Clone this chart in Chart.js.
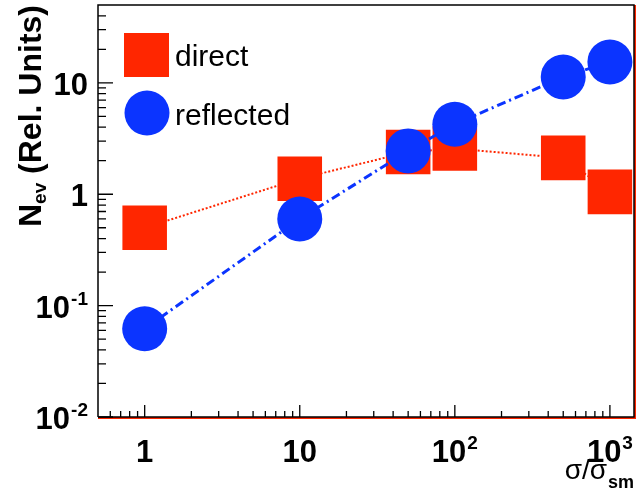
<!DOCTYPE html>
<html>
<head>
<meta charset="utf-8">
<script src="https://cdn.jsdelivr.net/npm/chart.js@4/dist/chart.umd.min.js"></script>
<style>
  html, body { margin: 0; padding: 0; background: #fff; }
  #wrap { width: 638px; height: 495px; }
</style>
</head>
<body>
<div id="wrap"><canvas id="chart" width="638" height="495"></canvas></div>
<script>
// cross-section ratio points
const xValues = [1, 10, 50, 100, 500, 1000];
const directValues = [0.50, 1.38, 2.39, 2.57, 2.12, 1.05];
const reflectedValues = [0.062, 0.60, 2.45, 4.25, 11.3, 15.4];

// axis decades and their labels (base, exponent)
const xDecades = [1, 10, 100, 1000];
const xDecadeLabels = [["1", ""], ["10", ""], ["10", "2"], ["10", "3"]];
const yDecades = [0.01, 0.1, 1, 10];
const yDecadeLabels = [["10", "-2"], ["10", "-1"], ["1", ""], ["10", ""]];

const seriesNames = ["direct", "reflected"];

const RED = "#ff2600";
const BLUE = "#0b34ff";
const FONT = "'Liberation Sans', Arial, sans-serif";

function minorTicks(min, max) {
    const out = [];
    for (let d = 0.01; d <= 1000; d *= 10) {
        for (let k = 2; k <= 9; k++) {
            const v = +(k * d).toPrecision(3);
            if (v > min && v < max) out.push(v);
        }
    }
    return out;
}

// draws "base^sup"; align is relative to the whole label
function drawPower(ctx, base, sup, x, y, align, size) {
    ctx.font = "bold " + size + "px " + FONT;
    const wb = ctx.measureText(base).width;
    const supSize = Math.round(size * 0.62);
    ctx.font = "bold " + supSize + "px " + FONT;
    const ws = sup ? ctx.measureText(sup).width + 1 : 0;
    const w = wb + ws;
    let x0 = x;
    if (align === "center") x0 = x - w / 2;
    if (align === "right") x0 = x - w;
    ctx.textAlign = "left";
    ctx.font = "bold " + size + "px " + FONT;
    ctx.fillText(base, x0, y);
    if (sup) {
        ctx.font = "bold " + supSize + "px " + FONT;
        ctx.fillText(sup, x0 + wb + 1, y - size * 0.42);
    }
}

const framePlugin = {
    id: "frame",
    afterDraw(chart) {
        const ctx = chart.ctx;
        const a = chart.chartArea;
        const xs = chart.scales.x;
        const ys = chart.scales.y;
        ctx.save();

        // frame
        ctx.strokeStyle = RED;
        ctx.lineWidth = 2;
        ctx.beginPath();
        ctx.moveTo(a.left, a.bottom + 1);
        ctx.lineTo(a.right + 1, a.bottom + 1);
        ctx.lineTo(a.right + 1, a.top);
        ctx.stroke();
        ctx.strokeStyle = "#000";
        ctx.lineWidth = 1.5;
        ctx.beginPath();
        ctx.moveTo(a.left, a.bottom);
        ctx.lineTo(a.left, a.top);
        ctx.lineTo(a.right, a.top);
        ctx.lineTo(a.right, a.bottom);
        ctx.lineTo(a.left, a.bottom);
        ctx.stroke();

        // ticks, pointing inside
        ctx.lineWidth = 1.3;
        ctx.beginPath();
        xDecades.forEach(v => {
            const px = xs.getPixelForValue(v);
            ctx.moveTo(px, a.bottom); ctx.lineTo(px, a.bottom - 12);
        });
        minorTicks(xs.min, xs.max).forEach(v => {
            const px = xs.getPixelForValue(v);
            ctx.moveTo(px, a.bottom); ctx.lineTo(px, a.bottom - 6);
        });
        yDecades.forEach(v => {
            const py = ys.getPixelForValue(v);
            ctx.moveTo(a.left, py); ctx.lineTo(a.left + 15, py);
        });
        minorTicks(ys.min, ys.max).forEach(v => {
            const py = ys.getPixelForValue(v);
            ctx.moveTo(a.left, py); ctx.lineTo(a.left + 8, py);
        });
        ctx.stroke();

        // tick labels
        ctx.fillStyle = "#000";
        ctx.textBaseline = "alphabetic";
        xDecades.forEach((v, i) => {
            const px = xs.getPixelForValue(v);
            drawPower(ctx, xDecadeLabels[i][0], xDecadeLabels[i][1], px, 462, "center", 31);
        });
        yDecades.forEach((v, i) => {
            const py = ys.getPixelForValue(v);
            drawPower(ctx, yDecadeLabels[i][0], yDecadeLabels[i][1], 88, py + 12, "right", 31);
        });

        // x title: sigma / sigma_sm
        const sub = "sm";
        const main = "\u03c3/\u03c3";
        ctx.font = "bold 18px " + FONT;
        const wSub = ctx.measureText(sub).width;
        ctx.textAlign = "right";
        ctx.fillText(sub, 634, 488);
        ctx.font = "28px " + FONT;
        ctx.fillText(main, 634 - wSub - 1, 479);

        // y title: N_ev (Rel. Units), rotated
        ctx.save();
        ctx.translate(32, 5);
        ctx.rotate(-Math.PI / 2);
        ctx.textAlign = "left";
        ctx.textBaseline = "middle";
        const t1 = "N", t2 = "ev", t3 = " (Rel. Units)";
        ctx.font = "bold 32px " + FONT;
        const w1 = ctx.measureText(t1).width;
        const w3 = ctx.measureText(t3).width;
        ctx.font = "bold 19px " + FONT;
        const w2 = ctx.measureText(t2).width;
        const total = w1 + w2 + w3;
        let u = -total;
        ctx.font = "bold 32px " + FONT;
        ctx.fillText(t1, u, 0);
        u += w1;
        ctx.font = "bold 19px " + FONT;
        ctx.fillText(t2, u, 9);
        u += w2;
        ctx.font = "bold 32px " + FONT;
        ctx.fillText(t3, u, 0);
        ctx.restore();

        // legend
        ctx.fillStyle = RED;
        ctx.fillRect(124, 33, 45, 44);
        ctx.fillStyle = BLUE;
        ctx.beginPath();
        ctx.arc(147, 113, 22.5, 0, Math.PI * 2);
        ctx.fill();
        ctx.fillStyle = "#000";
        ctx.font = "30px " + FONT;
        ctx.textAlign = "left";
        ctx.textBaseline = "middle";
        ctx.fillText(seriesNames[0], 175, 58);
        ctx.fillText(seriesNames[1], 175, 117);

        ctx.restore();
    }
};

const toPoints = ys => xValues.map((x, i) => ({ x: x, y: ys[i] }));

new Chart(document.getElementById("chart"), {
    type: "scatter",
    data: {
        datasets: [
            {
                label: seriesNames[1],
                data: toPoints(reflectedValues),
                showLine: true,
                borderColor: BLUE,
                borderWidth: 3,
                borderDash: [9, 4, 2, 4],
                backgroundColor: BLUE,
                pointStyle: "circle",
                pointRadius: 22.5,
                pointBorderWidth: 0,
                pointBackgroundColor: BLUE
            },
            {
                label: seriesNames[0],
                data: toPoints(directValues),
                showLine: true,
                borderColor: RED,
                borderWidth: 2,
                borderDash: [2, 2],
                backgroundColor: RED,
                pointStyle: "rect",
                pointRadius: 31.5,
                pointBorderWidth: 0,
                pointBackgroundColor: RED
            }
        ]
    },
    options: {
        responsive: false,
        animation: false,
        layout: {
            autoPadding: false,
            padding: { left: 98, right: 4, top: 5, bottom: 78 }
        },
        scales: {
            x: { type: "logarithmic", min: 0.5, max: 1430, display: false },
            y: { type: "logarithmic", min: 0.01, max: 50, display: false }
        },
        plugins: {
            legend: { display: false },
            tooltip: { enabled: false }
        }
    },
    plugins: [framePlugin]
});
</script>
</body>
</html>
